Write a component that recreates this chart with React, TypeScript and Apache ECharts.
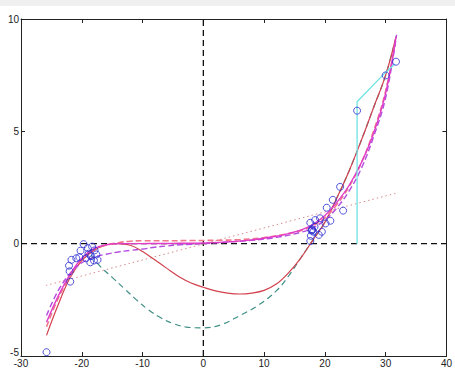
import React, { useEffect, useRef } from "react";
import * as echarts from "echarts";

const xTicks = [-30, -20, -10, 0, 10, 20, 30, 40];
const yTicks = [-5, 0, 5, 10];

const scatterPoints: [number, number][] = [
  [-25.8, -4.83],
  [-21.9, -1.69], [-22.0, -1.23], [-22.1, -0.98], [-21.7, -0.72], [-20.9, -0.65], [-20.4, -0.6],
  [-20.2, -0.31], [-19.7, -0.02], [-19.0, -0.2], [-18.3, -0.13], [-19.3, -0.65], [-18.6, -0.83],
  [-18.5, -0.55], [-17.9, -0.3], [-17.6, -0.48], [-17.4, -0.72], [-18.0, -0.75], [-18.9, -0.45],
  [17.6, 0.12], [17.7, 0.35], [17.9, 0.6], [18.1, 0.53], [17.6, 0.93], [18.4, 1.05], [19.2, 1.13],
  [19.0, 0.39], [19.5, 0.53], [20.1, 0.9], [20.9, 1.02], [20.3, 1.6], [21.3, 1.95], [22.5, 2.53],
  [23.0, 1.47], [18.3, 0.76], [17.8, 0.58], [17.9, 0.64],
  [25.3, 5.92], [30.0, 7.49], [31.7, 8.1],
];

const cyanPath: [number, number][] = [[25.3, 0], [25.3, 6.32], [29.9, 7.6], [31.5, 8.0]];

const linearFit: [number, number][] = [[-25.9, -1.86], [31.6, 2.24]];

const redSolid: [number, number][] = [
  [-25.8, -4.08], [-24, -2.8], [-22, -1.55], [-20, -0.75], [-18, -0.3], [-16, -0.06],
  [-14, 0.0], [-12, -0.07], [-10, -0.35], [-8, -0.72], [-6, -1.1], [-4, -1.47], [-2, -1.75],
  [0, -1.94], [2, -2.1], [4, -2.2], [6, -2.24], [8, -2.2], [10, -2.08], [12, -1.8],
  [14, -1.3], [16, -0.65], [18, 0.15], [20, 0.95], [22, 2.05], [24, 3.25], [26, 4.6],
  [28, 6.05], [30, 7.5], [31.7, 9.2],
];

const tealDashed: [number, number][] = [
  [-18.5, -0.5], [-17, -1.0], [-15, -1.5], [-13, -2.0], [-11, -2.5], [-9, -2.95], [-7, -3.3],
  [-5, -3.55], [-3, -3.7], [0, -3.75], [3, -3.6], [6, -3.2], [9, -2.75], [12, -2.1],
  [14, -1.45], [16, -0.65], [18, 0.15], [20, 0.95], [22, 2.05], [24, 3.25], [26, 4.6],
  [28, 6.05], [30, 7.5], [31.7, 9.2],
];

const magentaSolid: [number, number][] = [
  [-25.8, -3.5], [-24, -2.4], [-22, -1.4], [-20, -0.65], [-18, -0.22], [-16, -0.05],
  [-14, 0], [-12, 0], [-10, 0], [-8, 0.01], [-6, 0.01], [-4, 0.02], [-2, 0.02], [0, 0.03],
  [4, 0.08], [8, 0.17], [12, 0.33], [14, 0.45], [16, 0.6], [18, 0.85], [20, 1.25],
  [22, 1.85], [24, 2.6], [26, 3.6], [28, 4.9], [30, 6.7], [31.7, 9.2],
];

const violetDashed: [number, number][] = [
  [-25.8, -3.2], [-24, -2.15], [-22, -1.35], [-20, -0.85], [-18, -0.6], [-16, -0.47],
  [-14, -0.37], [-12, -0.3], [-10, -0.24], [-8, -0.16], [-6, -0.1], [-4, -0.05], [-2, -0.03],
  [0, 0], [4, 0.07], [8, 0.15], [12, 0.28], [16, 0.5], [18, 0.7], [20, 1.05], [22, 1.6],
  [24, 2.35], [26, 3.35], [28, 4.75], [30, 6.5], [31.8, 9.3],
];

const salmonDashed: [number, number][] = [
  [-25.8, -3.7], [-24, -2.5], [-22, -1.5], [-20, -0.7], [-18, -0.25], [-16, -0.07],
  [-14, 0.04], [-12, 0.11], [-10, 0.13], [-6, 0.13], [-2, 0.14], [2, 0.15], [6, 0.18],
  [10, 0.27], [14, 0.45], [16, 0.58], [18, 0.8], [20, 1.15], [22, 1.75], [24, 2.55],
  [26, 3.6], [28, 5.0], [30, 6.8], [31.6, 9.0],
];

const hZero: [number, number][] = [[-30, 0], [40, 0]];
const vZero: [number, number][] = [[0, -5], [0, 10]];

export default function App() {
  const ref = useRef<HTMLDivElement>(null);
  useEffect(() => {
    if (!ref.current) return;
    const chart = echarts.init(ref.current, null, { renderer: "svg" });
    const axisLine = { show: true, onZero: false, lineStyle: { color: "#222", width: 1 } };
    const tick = { show: true, inside: true, length: 4, lineStyle: { color: "#222" } };
    const label = { color: "#222", fontSize: 10, fontFamily: "Liberation Sans" };
    const curve = (name: string, data: [number, number][], color: string, type: any, width = 1.2) => ({
      name,
      type: "line",
      data,
      smooth: 0.4,
      showSymbol: false,
      symbol: "none",
      xAxisIndex: 0,
      yAxisIndex: 0,
      lineStyle: { color, width, type },
      z: 3,
    });
    chart.setOption({
      animation: false,
      backgroundColor: "#ffffff",
      graphic: [
        { type: "rect", shape: { x: 0, y: 0, width: 455, height: 6 }, style: { fill: "#f0f0f0" }, z: -1 },
      ],
      grid: { left: 21, top: 19, right: 6, bottom: 11, containLabel: false },
      xAxis: [
        {
          type: "value", min: -30, max: 40, interval: 10, position: "bottom",
          axisLine, axisTick: tick, splitLine: { show: false },
          axisLabel: { ...label, margin: 2, formatter: (v: number) => (xTicks.includes(v) ? String(v) : "") },
        },
        {
          type: "value", min: -30, max: 40, interval: 10, position: "top",
          axisLine, axisTick: tick, splitLine: { show: false }, axisLabel: { show: false },
        },
      ],
      yAxis: [
        {
          type: "value", min: -5, max: 10, interval: 5, position: "left",
          axisLine, axisTick: tick, splitLine: { show: false },
          axisLabel: {
            ...label, margin: 2,
            formatter: (v: number) => (v === -5 ? "{lo|-5}" : yTicks.includes(v) ? String(v) : ""),
            rich: { lo: { color: "#222", fontSize: 10, fontFamily: "Liberation Sans", padding: [0, 0, 8, 0] } },
          },
        },
        {
          type: "value", min: -5, max: 10, interval: 5, position: "right",
          axisLine, axisTick: tick, splitLine: { show: false }, axisLabel: { show: false },
        },
      ],
      series: [
        { type: "line", data: hZero, symbol: "none", lineStyle: { color: "#111", width: 1.3, type: [6, 4] }, z: 2 },
        { type: "line", data: vZero, symbol: "none", lineStyle: { color: "#111", width: 1.3, type: [6, 4] }, z: 2 },
        curve("linear", linearFit, "#d98a8a", [1.5, 3], 1),
        curve("teal", tealDashed, "#3f8f86", [6, 4], 1.2),
        curve("red", redSolid, "#d2404e", "solid", 1.2),
        curve("salmon", salmonDashed, "#f0788a", [6, 3], 1.6),
        curve("violet", violetDashed, "#b44ce0", [6, 3], 1.4),
        curve("magenta", magentaSolid, "#e03cc8", "solid", 1.4),
        {
          type: "line", data: cyanPath, symbol: "none", smooth: false,
          lineStyle: { color: "#6fe3e3", width: 1.3 }, z: 3,
        },
        {
          type: "scatter", data: scatterPoints, symbol: "circle", symbolSize: 7,
          itemStyle: { color: "rgba(0,0,0,0)", borderColor: "#2a2ad0", borderWidth: 1 }, z: 5,
        },
      ],
    });
    return () => chart.dispose();
  }, []);
  return <div ref={ref} style={{ position: "absolute", left: 0, top: 0, width: 455, height: 368 }} />;
}
